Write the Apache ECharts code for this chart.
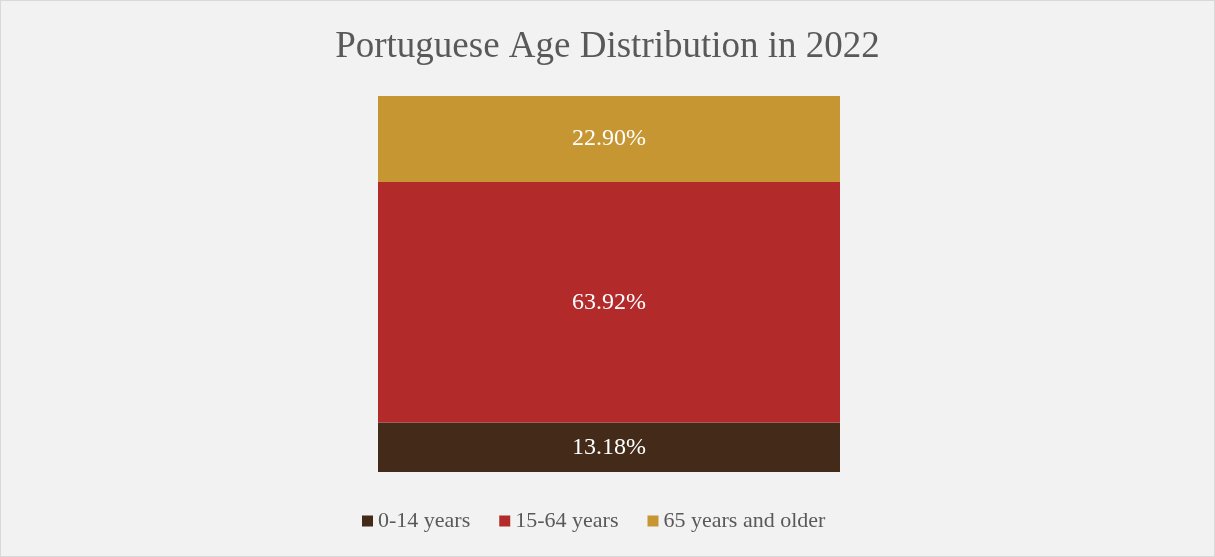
<!DOCTYPE html>
<html><head><meta charset="utf-8">
<script src="https://cdn.jsdelivr.net/npm/echarts@6/dist/echarts.min.js"></script>
<style>html,body{margin:0;padding:0;background:#fff}#c{width:1215px;height:557px;box-sizing:border-box;border:1px solid #d9d9d9;background:#f2f2f2}</style>
</head><body><div id="c"></div>
<script>
const categories = ['2022'];
const seriesNames = ['0-14 years', '15-64 years', '65 years and older'];
const age0to14 = [13.18];
const age15to64 = [63.92];
const age65plus = [22.90];
const colors = ['#432a19', '#b22a29', '#c69633'];
const font = '"Liberation Serif", "Times New Roman", serif';
const chart = echarts.init(document.getElementById('c'), null, {renderer: 'canvas'});
const values = [age0to14, age15to64, age65plus];
chart.setOption({
  backgroundColor: '#f2f2f2',
  animation: false,
  title: {text: 'Portuguese Age Distribution in 2022', left: 'center', top: 23,
    textStyle: {fontFamily: font, fontSize: 37, fontWeight: 'normal', color: '#595959'}},
  legend: {bottom: 19, left: 356, itemWidth: 11, itemHeight: 11, itemGap: 29,
    icon: 'rect', textStyle: {fontFamily: font, fontSize: 22, color: '#595959'},
    data: seriesNames},
  grid: {left: 377, width: 462, top: 95, height: 376},
  xAxis: {type: 'category', data: categories, show: false},
  yAxis: {type: 'value', min: 0, max: 100, show: false},
  series: seriesNames.map((n, i) => ({
    name: n, type: 'bar', stack: 'total', barWidth: '100%', data: values[i],
    itemStyle: {color: colors[i]},
    label: {show: true, position: 'inside', color: '#ffffff', fontFamily: font, fontSize: 24,
      formatter: p => p.value.toFixed(2) + '%'}
  }))
});
</script></body></html>
